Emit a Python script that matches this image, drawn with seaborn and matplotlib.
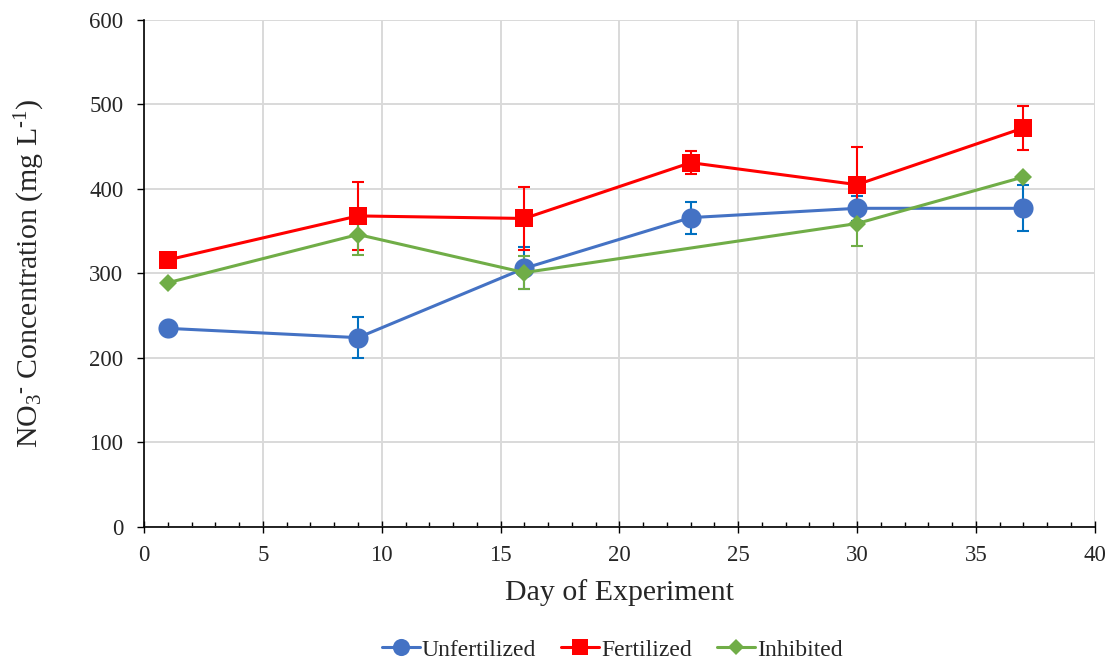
import matplotlib
matplotlib.use("Agg")
import matplotlib.pyplot as plt
import seaborn as sns
import pandas as pd
from matplotlib.lines import Line2D
from matplotlib.ticker import MultipleLocator

# NO3- concentration by day of experiment (mean and error)
unfert_days = [1, 9, 16, 23, 30, 37]
unfert_vals = [235, 224, 306, 366, 377, 377]
unfert_err = [0, 24, 25, 19, 15, 27]

fert_days = [1, 9, 16, 23, 30, 37]
fert_vals = [316, 368, 365, 431, 405, 472]
fert_err = [0, 40, 37, 14, 44, 26]

inhib_days = [1, 9, 16, 30, 37]
inhib_vals = [289, 346, 301, 359, 414]
inhib_err = [0, 24, 20, 26, 0]

x_ticks = [0, 5, 10, 15, 20, 25, 30, 35, 40]
y_ticks = [0, 100, 200, 300, 400, 500, 600]

sns.set_theme(style="white")
plt.rcParams["font.family"] = ["Liberation Serif", "DejaVu Serif"]
plt.rcParams["mathtext.fontset"] = "custom"
plt.rcParams["mathtext.rm"] = "Liberation Serif"
plt.rcParams["mathtext.it"] = "Liberation Serif:italic"

series = [
    ("Unfertilized", unfert_days, unfert_vals, unfert_err, "#4472C4", "#0070C0", "o", 14.5),
    ("Fertilized", fert_days, fert_vals, fert_err, "#FF0000", "#FF0000", "s", 13),
    ("Inhibited", inhib_days, inhib_vals, inhib_err, "#70AD47", "#70AD47", "D", 9),
]

fig = plt.figure(figsize=(11.09, 6.60), dpi=100)
ax = fig.add_axes([0.130, 0.2015, 0.857, 0.7685])

handles = []
for name, days, vals, errs, color, ecolor, marker, ms in series:
    df = pd.DataFrame({"day": days, "conc": vals})
    ax.errorbar(days, vals, yerr=errs, fmt="none", ecolor=ecolor,
                elinewidth=1.5, capsize=4, capthick=1.5, zorder=2)
    sns.lineplot(data=df, x="day", y="conc", ax=ax, color=color,
                 marker=marker, markersize=ms, markeredgecolor=color,
                 markeredgewidth=0, linewidth=2.2, label=name,
                 zorder=3, legend=False)
    handles.append(Line2D([], [], color=color, marker=marker,
                          markersize=ms * 0.85, markeredgewidth=0,
                          linewidth=2.2, label=name))

ax.set_xlim(0, 40)
ax.set_ylim(0, 600)
ax.set_xticks(x_ticks)
ax.set_yticks(y_ticks)
ax.xaxis.set_minor_locator(MultipleLocator(1))
ax.grid(True, which="major", color="#D9D9D9", linewidth=1.4)
ax.set_axisbelow(True)
for side in ["top", "right"]:
    ax.spines[side].set_visible(False)
for side in ["left", "bottom"]:
    ax.spines[side].set_color("black")
    ax.spines[side].set_linewidth(1.2)
ax.tick_params(axis="both", which="major", labelsize=16.5, width=1,
               color="black", bottom=True, left=True)
ax.tick_params(axis="x", which="major", direction="inout", length=8, pad=9)
ax.tick_params(axis="y", which="major", direction="out", length=5, pad=10)
ax.tick_params(axis="x", which="minor", direction="in", length=3.5,
               width=1, color="black", bottom=True)

ax.set_xlabel("Day of Experiment", fontsize=21.5, labelpad=9)
ax.set_ylabel(r"NO$_3$$^{\text{-}}$ Concentration (mg L$^{\text{-}1}$)",
              fontsize=21.5, labelpad=30)

fig.legend(handles=handles, loc="lower center", bbox_to_anchor=(0.552, -0.033),
           ncol=3, frameon=False, fontsize=17, handlelength=1.6,
           handletextpad=0.1, columnspacing=1.05)

fig.savefig("out.png", dpi=100)
